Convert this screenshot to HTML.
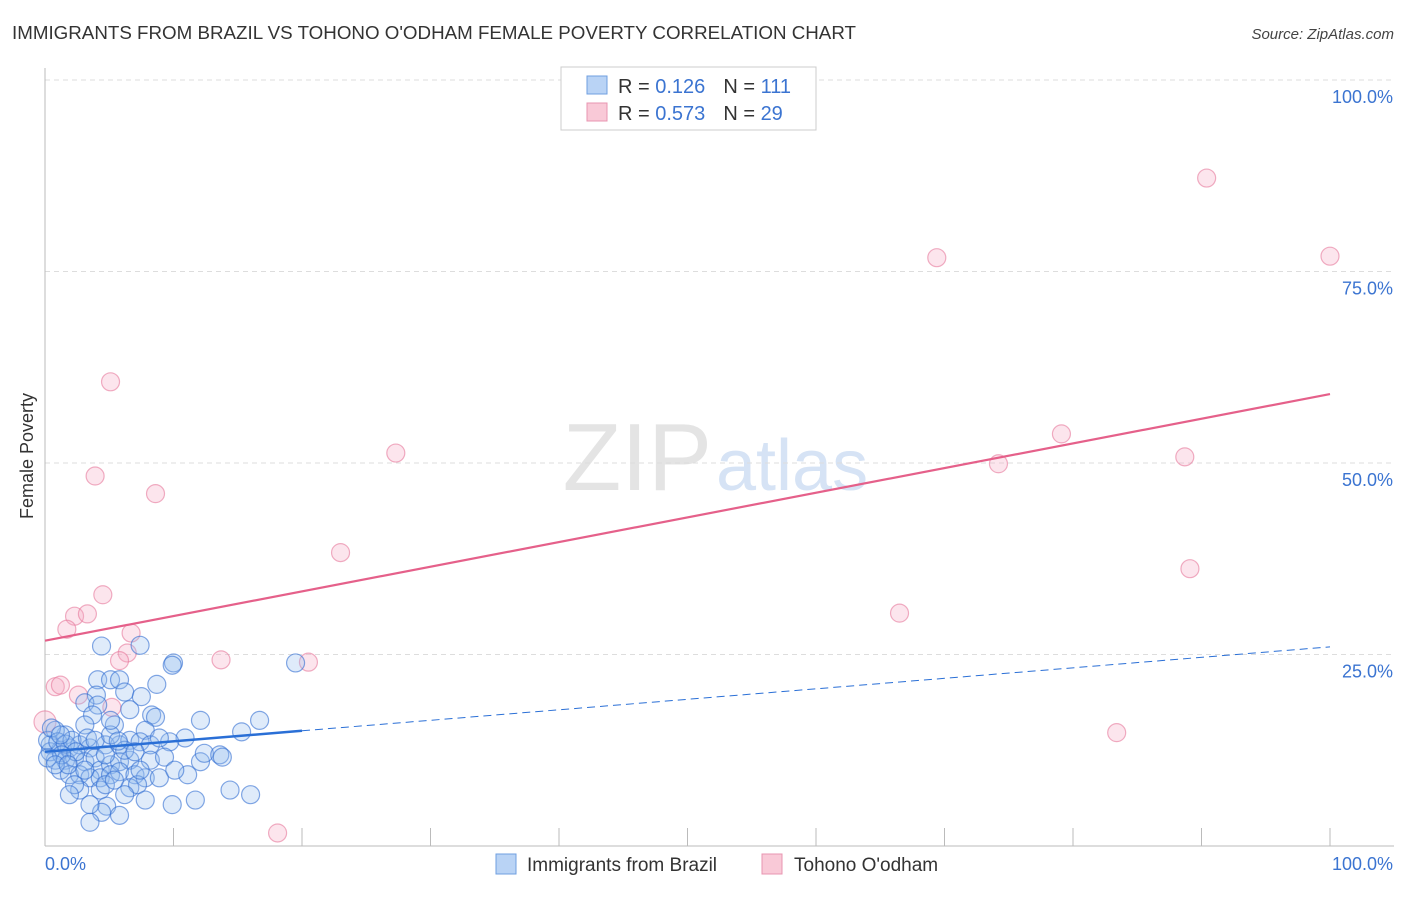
<!DOCTYPE html>
<html><head><meta charset="utf-8"><style>
body{margin:0;background:#fff;font-family:"Liberation Sans",sans-serif}
svg text{font-family:"Liberation Sans",sans-serif}
</style></head><body>
<svg id="chart" width="1406" height="892" xmlns="http://www.w3.org/2000/svg">
<text x="12" y="39" font-size="18" fill="#333" textLength="844" lengthAdjust="spacingAndGlyphs">IMMIGRANTS FROM BRAZIL VS TOHONO O'ODHAM FEMALE POVERTY CORRELATION CHART</text>
<text x="1394" y="39" font-size="15" fill="#444" text-anchor="end" font-style="italic">Source: ZipAtlas.com</text>
<text transform="translate(33,456) rotate(-90)" font-size="18" fill="#333" text-anchor="middle">Female Poverty</text>
<text x="712" y="490" font-size="96" fill="#e4e4e4" text-anchor="end" font-family="Liberation Serif">ZIP</text>
<text x="716" y="490" font-size="72" fill="#d6e3f5">atlas</text>
<g id="grid"></g><g id="marks"></g>
<g>
<rect x="561" y="67" width="255" height="63" fill="#fff" stroke="#ccc"/>
<rect x="587" y="76" width="20" height="18" fill="#b9d3f5" stroke="#6f9fe0"/>
<rect x="587" y="103" width="20" height="18" fill="#f9c9d7" stroke="#e895b0"/>
<text x="618" y="93" font-size="20" fill="#333">R = <tspan fill="#3b74d1">0.126</tspan><tspan dx="18">N = </tspan><tspan fill="#3b74d1">111</tspan></text>
<text x="618" y="120" font-size="20" fill="#333">R = <tspan fill="#3b74d1">0.573</tspan><tspan dx="18">N = </tspan><tspan fill="#3b74d1">29</tspan></text>
</g>
<g>
<rect x="496" y="854" width="20" height="20" fill="#b9d3f5" stroke="#6f9fe0"/>
<text x="527" y="871" font-size="19" fill="#333">Immigrants from Brazil</text>
<rect x="762" y="854" width="20" height="20" fill="#f9c9d7" stroke="#e895b0"/>
<text x="794" y="871" font-size="19" fill="#333">Tohono O'odham</text>
</g>
</svg>
<script>
const blueX=[4.4,7.4,10.0,9.9,19.5,4.1,5.1,5.8,8.7,4.0,6.2,7.5,3.1,4.1,3.7,8.3,8.6,12.1,15.3,16.7,3.1,5.4,7.8,10.9,1.6,0.8,0.4,1.2,1.9,2.7,3.5,4.7,5.8,6.6,7.4,8.2,1.6,2.3,3.1,3.9,4.3,5.1,5.8,6.6,0.8,0.4,1.2,1.9,2.7,3.5,4.3,5.1,5.8,7.0,7.8,8.9,11.1,12.1,12.4,13.6,13.8,9.7,2.7,4.3,4.7,2.3,6.6,7.2,14.4,16.0,11.7,9.9,4.8,4.4,5.8,3.5,0.2,0.5,1.0,1.6,2.1,2.4,1.3,0.2,0.8,1.8,3.3,3.9,5.1,6.2,7.0,8.2,9.3,10.1,5.4,6.2,7.4,5.1,6.6,3.5,7.8,1.9,1.2,3.1,4.7,5.7,8.9];
const blueY=[26.1,26.2,23.9,23.6,23.9,21.7,21.7,21.7,21.1,19.7,20.1,19.5,18.7,18.4,17.1,17.1,16.8,16.4,14.9,16.4,15.8,15.8,15.1,14.1,14.5,15.1,13.2,12.5,12.8,13.2,12.8,13.2,13.2,13.8,13.6,13.2,11.2,11.5,11.0,11.5,9.9,10.6,11.0,11.2,11.2,12.3,9.9,9.3,9.3,8.9,8.9,9.3,9.7,9.3,8.9,8.9,9.3,11.0,12.1,11.9,11.6,13.6,7.3,7.3,8.0,8.0,7.6,8.0,7.3,6.7,6.0,5.4,5.2,4.4,4.0,3.1,13.8,15.4,13.6,13.3,13.8,12.3,11.9,11.5,10.6,10.6,14.1,13.8,14.5,12.5,12.3,11.2,11.6,9.9,8.6,6.7,9.9,16.4,17.8,5.4,6.0,6.7,14.5,9.9,11.9,13.7,14.1];
const pinkX=[90.4,69.4,100,5.1,3.9,8.6,27.3,79.1,74.2,88.7,23.0,89.1,4.5,2.3,3.3,1.7,66.5,6.7,6.4,5.8,13.7,20.5,0.8,1.2,2.6,5.2,83.4,18.1,0];
const pinkY=[87.2,76.8,77.0,60.6,48.3,46.0,51.3,53.8,49.9,50.8,38.3,36.2,32.8,30.0,30.3,28.3,30.4,27.8,25.2,24.2,24.3,24.0,20.8,21.0,19.7,18.1,14.8,1.7,16.2];
const blueTrend=[12.3,26.0];
const pinkTrend=[26.8,59.0];
const yTicks=[25,50,75,100];
const ns="http://www.w3.org/2000/svg";
const X=v=>45+v*12.85, Y=v=>846-v*7.66;
function mk(t,a,p){const e=document.createElementNS(ns,t);for(const k in a)e.setAttribute(k,a[k]);p.appendChild(e);return e;}
const g=document.getElementById('grid'),m=document.getElementById('marks');
yTicks.forEach(t=>{
 const l=mk('line',{x1:45,x2:1394,y1:Y(t),y2:Y(t),stroke:'#ddd','stroke-dasharray':'5,4'},g);
 
 
 const tx=mk('text',{x:1393,y:Y(t)+23,'font-size':18,fill:'#3b74d1','text-anchor':'end'},g);tx.textContent=t.toFixed(1)+'%';
 
 
});
const ax=mk('line',{x1:45,x2:1394,y1:846,y2:846,stroke:'#bbb'},g);


const ay=mk('line',{x1:45,x2:45,y1:68,y2:846,stroke:'#bbb'},g);


for(let i=1;i<=10;i++){const t=mk('line',{x1:45+i*128.5,x2:45+i*128.5,y1:828,y2:846,stroke:'#bbb'},g);
 
 }
[['0.0%',45,'start'],['100.0%',1393,'end']].forEach(([s,x,a])=>{const t=mk('text',{x:x,y:870,'font-size':18,fill:'#3b74d1','text-anchor':a},g);t.textContent=s;
 
 });
pinkX.forEach((v,i)=>{const c=mk('circle',{cx:X(v),cy:Y(pinkY[i]),r:v===0?11:9,fill:'rgba(245,170,195,0.3)',stroke:'rgba(230,120,155,0.6)','stroke-width':1.2},m);
 
 });
blueX.forEach((v,i)=>{const c=mk('circle',{cx:X(v),cy:Y(blueY[i]),r:9,fill:'rgba(150,188,238,0.3)',stroke:'rgba(50,110,210,0.6)','stroke-width':1.2},m);
 
 });
const bAt=x=>blueTrend[0]+(blueTrend[1]-blueTrend[0])*x/100;
const b1=mk('line',{x1:X(0),y1:Y(bAt(0)),x2:X(20),y2:Y(bAt(20)),stroke:'#2a6fd6','stroke-width':2.5},m);


const b2=mk('line',{x1:X(20),y1:Y(bAt(20)),x2:X(100),y2:Y(bAt(100)),stroke:'#2a6fd6','stroke-width':1,'stroke-dasharray':'8,5'},m);


const p=mk('line',{x1:X(0),y1:Y(pinkTrend[0]),x2:X(100),y2:Y(pinkTrend[1]),stroke:'#e5608a','stroke-width':2.2},m);


</script>
</body></html>
